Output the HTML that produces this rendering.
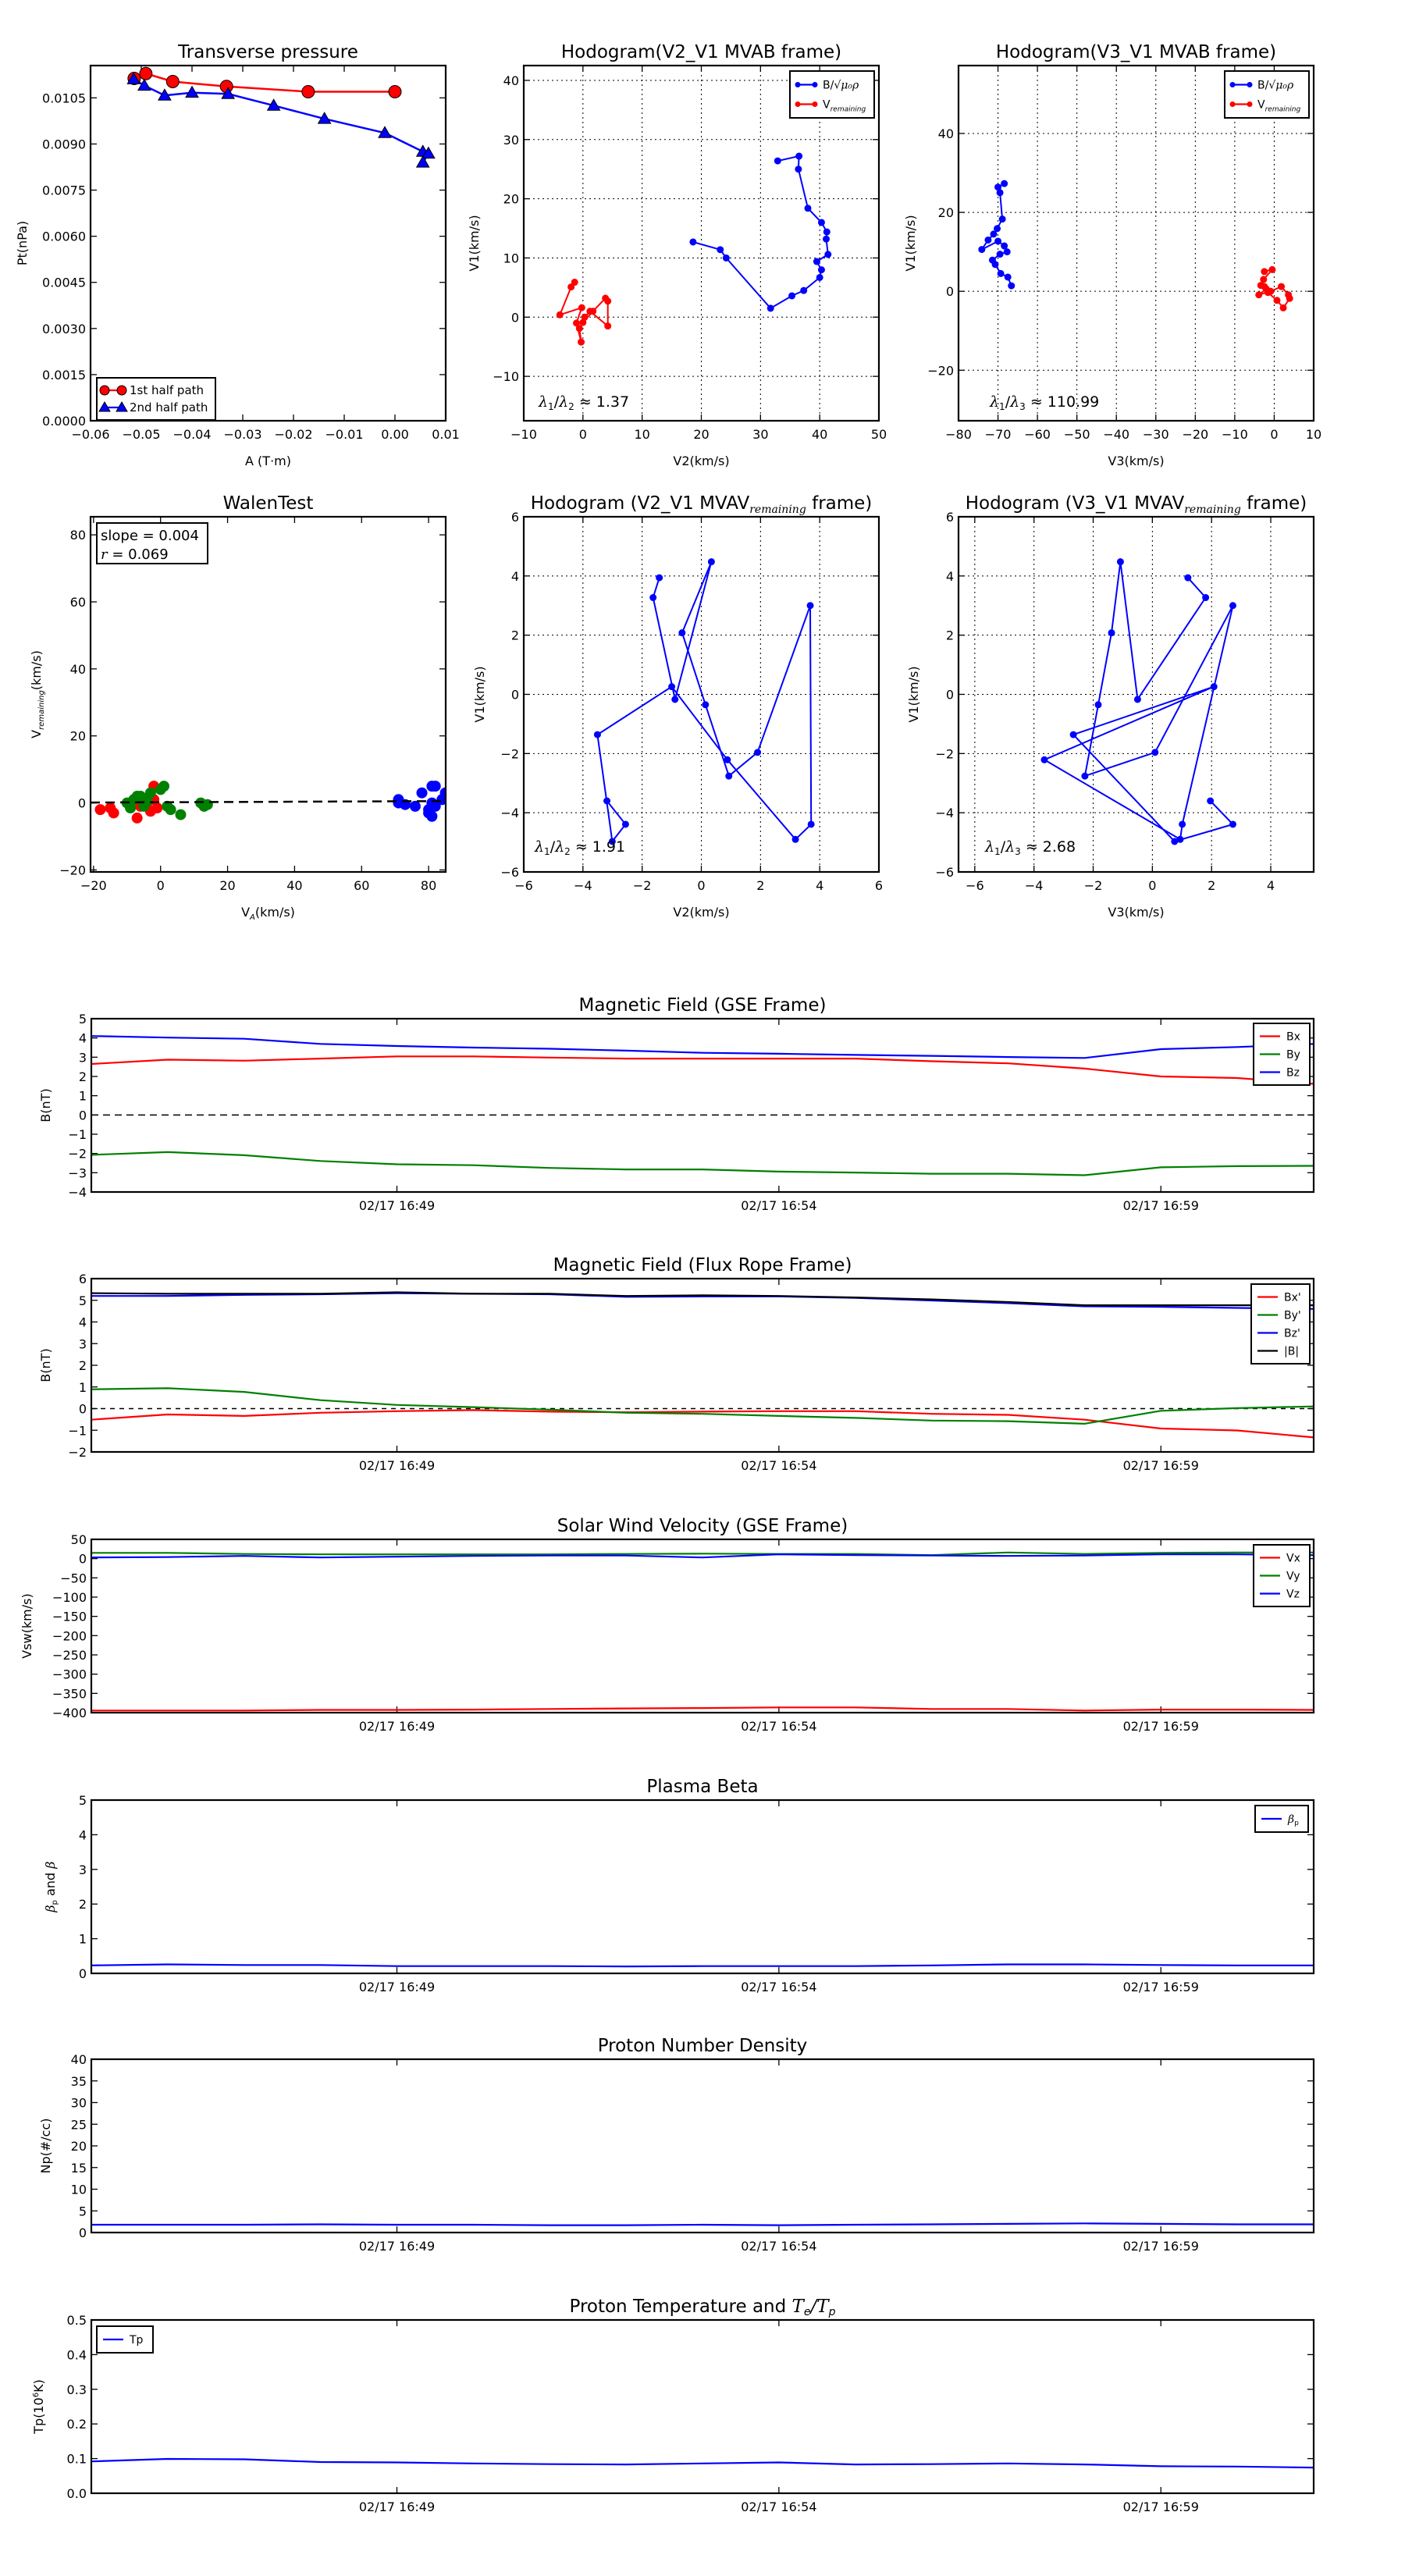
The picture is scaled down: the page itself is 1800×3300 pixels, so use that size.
<!DOCTYPE html>
<html><head><meta charset="utf-8"><title>Flux rope analysis</title>
<style>
html,body{margin:0;padding:0;background:#fff;}
svg{display:block;}
text{font-family:"DejaVu Sans","Liberation Sans",sans-serif;fill:#000;}
</style></head>
<body>
<svg id="fig" xmlns="http://www.w3.org/2000/svg" width="1800" height="3300" viewBox="0 0 1800 3300">
<rect x="0" y="0" width="1800" height="3300" fill="#fff"></rect>
</svg>
<script>
// ---------- data ----------
const ptFirstA = [-0.0514,-0.0491,-0.0438,-0.0332,-0.0171,0.0000];
const ptFirstP = [0.01113,0.01129,0.01103,0.01087,0.0107,0.0107];
const ptSecondA = [-0.0515,-0.0494,-0.0454,-0.0400,-0.0329,-0.0239,-0.0139,-0.0020,0.0055,0.0066,0.0055];
const ptSecondP = [0.01111,0.01090,0.01058,0.01067,0.01063,0.01025,0.00982,0.00936,0.00875,0.00869,0.00840];

const h1BV2 = [18.6,23.2,24.2,31.7,35.3,37.3,40.0,40.3,39.5,41.4,41.1,41.2,40.3,38.0,36.4,36.5,32.9];
const h1BV1 = [12.7,11.4,10.0,1.5,3.6,4.5,6.7,8.0,9.4,10.6,13.2,14.4,16.0,18.4,25.0,27.2,26.4];
const h1RV2 = [-1.4,-2.0,-3.9,-0.2,-1.1,-0.3,-0.6,0.0,1.7,3.8,4.2,4.2,1.2,0.3];
const h1RV1 = [5.9,5.1,0.4,1.6,-1.0,-4.2,-1.9,-0.9,1.0,3.2,2.7,-1.5,1.0,0.0];

const h2BV3 = [-68.4,-70.0,-69.5,-68.9,-70.2,-71.1,-72.5,-74.1,-70.0,-68.4,-67.7,-69.5,-71.4,-70.7,-69.3,-67.5,-66.6];
const h2BV1 = [27.3,26.4,25.0,18.3,15.9,14.5,13.0,10.6,12.7,11.5,10.0,9.4,7.9,6.8,4.5,3.6,1.4];
const h2RV3 = [-2.5,-0.5,-2.7,-3.4,-2.0,-3.9,-0.9,1.8,3.6,3.9,2.3,0.7,-1.6,-2.5];
const h2RV1 = [5.0,5.5,3.0,1.5,0.6,-0.9,0.0,1.2,-0.9,-1.8,-4.2,-2.3,-0.3,1.2];

const walenRedX = [-18,-15,-14,-7,-3,-2,-2,-1,-4,-6];
const walenRedY = [-2,-1.5,-3,-4.5,-2.5,5,1,-1.5,0,-1];
const walenGreenX = [-10,-8,-7,-6,-5,-4,0,1,2,3,6,12,14,13,-9,-3];
const walenGreenY = [0,1,2,2,-1,0.5,4,5,-1,-2,-3.5,0,-0.5,-1,-1.5,3];
const walenBlueX = [71,71,73,76,78,81,82,80,81,82,84,85,81,80];
const walenBlueY = [1,0,-0.5,-1,3,5,5,-2,-4,-1,1,3,0,-3];
const walenSlope = 0.004;
const walenIntercept = 0.2;

const mvavV1 = [3.94,3.27,-0.17,4.48,2.08,-0.35,-2.76,-1.96,3.00,-4.39,-4.90,-2.21,0.26,-1.36,-4.97,-4.39,-3.60];
const mvavV2 = [-1.42,-1.63,-0.89,0.34,-0.65,0.14,0.93,1.90,3.68,3.71,3.18,0.88,-1.00,-3.51,-3.01,-2.56,-3.19];
const mvavV3 = [1.20,1.80,-0.50,-1.08,-1.38,-1.83,-2.28,0.09,2.72,1.01,0.94,-3.65,2.08,-2.67,0.75,2.72,1.96];

const timeMinutes = [0,1,2,3,4,5,6,7,8,9,10,11,12,13,14,15,16];
const timeTickMinutes = [4,9,14];
const timeTickLabels = ["02/17 16:49","02/17 16:54","02/17 16:59"];

const gseBx = [2.65,2.87,2.82,2.93,3.04,3.04,2.98,2.93,2.93,2.93,2.93,2.79,2.68,2.41,2.00,1.92,1.62];
const gseBy = [-2.07,-1.93,-2.09,-2.39,-2.56,-2.61,-2.75,-2.83,-2.83,-2.94,-2.99,-3.05,-3.05,-3.13,-2.72,-2.66,-2.64];
const gseBz = [4.10,4.02,3.96,3.69,3.58,3.50,3.44,3.34,3.23,3.18,3.12,3.07,3.01,2.96,3.42,3.53,3.69];

const frBx = [-0.51,-0.27,-0.34,-0.19,-0.12,-0.07,-0.14,-0.17,-0.14,-0.12,-0.12,-0.24,-0.29,-0.51,-0.92,-1.01,-1.33];
const frBy = [0.89,0.94,0.77,0.39,0.17,0.07,-0.05,-0.19,-0.24,-0.34,-0.43,-0.55,-0.58,-0.70,-0.10,0.02,0.10];
const frBz = [5.20,5.20,5.25,5.28,5.33,5.30,5.28,5.16,5.18,5.18,5.11,4.99,4.87,4.72,4.70,4.65,4.60];
const frBt = [5.33,5.30,5.30,5.30,5.37,5.30,5.30,5.20,5.23,5.20,5.13,5.04,4.92,4.77,4.77,4.77,4.77];

const swVx = [-394.5,-394.5,-394.5,-393,-393,-392,-390.5,-389,-388,-386.5,-386.5,-390.5,-390.5,-394.5,-392,-392,-393];
const swVy = [15,15,12,11,11,11,11,12,13,12,12,9,16,12,15,16,16];
const swVz = [3,4,7,3,5,7,8,8,3,11,9,8,7,8,11,11,9];

const betaP = [0.23,0.26,0.24,0.24,0.21,0.21,0.21,0.20,0.21,0.21,0.21,0.23,0.26,0.26,0.24,0.23,0.23];
const densNp = [1.8,1.8,1.8,1.9,1.8,1.8,1.7,1.7,1.8,1.7,1.8,1.9,2.0,2.1,2.0,1.9,1.9];
const tempTp = [0.092,0.099,0.098,0.090,0.089,0.086,0.084,0.083,0.086,0.089,0.083,0.084,0.086,0.083,0.078,0.077,0.074];

// ---------- helpers ----------
const NS = 'http://www.w3.org/2000/svg';
const svg = document.getElementById('fig');
const TITLE_FS = 23, TICK_FS = 16, LABEL_FS = 16;
function mk(tag, attrs, parent) {
  const e = document.createElementNS(NS, tag);
  for (const k in attrs) e.setAttribute(k, attrs[k]);
  (parent || svg).appendChild(e);
  return e;
}
function txt(parent, x, y, s, size, anchor) {
  const t = mk('text', {x: x, y: y, 'font-size': size, 'text-anchor': anchor || 'middle'}, parent);
  t.textContent = s;
  return t;
}
function fmtMinus(s) { return String(s).replace('-', '\u2212'); }
let clipId = 0;
function makeAxes(c) {
  const g = mk('g', {});
  
  
  const sx = v => c.x0 + (v - c.xmin) / (c.xmax - c.xmin) * c.w;
  const sy = v => c.y0 + c.h - (v - c.ymin) / (c.ymax - c.ymin) * c.h;
  clipId++;
  const cp = mk('clipPath', {id: 'clip' + clipId}, g);
  mk('rect', {x: c.x0, y: c.y0, width: c.w, height: c.h}, cp);
  const grid = mk('g', {}, g);
  
  
  const ticks = mk('g', {stroke: '#000', 'stroke-width': 1.3}, g);
  
  
  const xl = mk('g', {}, g);
  
  
  const yl = mk('g', {}, g);
  
  
  const L = 8;
  c.xticks.forEach((v, i) => {
    const x = sx(v);
    if (c.grid) mk('line', {x1: x, x2: x, y1: c.y0, y2: c.y0 + c.h, stroke: '#000', 'stroke-width': 1, 'stroke-dasharray': '2,4'}, grid);
    mk('line', {x1: x, x2: x, y1: c.y0 + c.h, y2: c.y0 + c.h - L}, ticks);
    mk('line', {x1: x, x2: x, y1: c.y0, y2: c.y0 + L}, ticks);
    const lab = c.xlabels ? c.xlabels[i] : fmtMinus(c.xfmt(v));
    txt(xl, x, c.y0 + c.h + 23, lab, TICK_FS);
  });
  c.yticks.forEach((v, i) => {
    const y = sy(v);
    if (c.grid) mk('line', {x1: c.x0, x2: c.x0 + c.w, y1: y, y2: y, stroke: '#000', 'stroke-width': 1, 'stroke-dasharray': '2,4'}, grid);
    mk('line', {x1: c.x0, x2: c.x0 + L, y1: y, y2: y}, ticks);
    mk('line', {x1: c.x0 + c.w, x2: c.x0 + c.w - L, y1: y, y2: y}, ticks);
    txt(yl, c.x0 - 6, y + 6, fmtMinus(c.yfmt(v)), TICK_FS, 'end');
  });
  const tt = txt(g, c.x0 + c.w / 2, c.y0 - 10, '', TITLE_FS);
  
  
  if (c.titleHTML) tt.innerHTML = c.titleHTML; else tt.textContent = c.title;
  if (c.xlabel) {
    const xt = txt(g, c.x0 + c.w / 2, c.y0 + c.h + 57, '', LABEL_FS);
    
    
    xt.innerHTML = c.xlabel;
  }
  if (c.ylabel) {
    const ycx = c.ylabelX, ycy = c.y0 + c.h / 2;
    const yt = mk('text', {x: ycx, y: ycy, 'font-size': LABEL_FS, 'text-anchor': 'middle', transform: 'rotate(-90 ' + ycx + ' ' + ycy + ')'}, g);
    
    
    yt.innerHTML = c.ylabel;
  }
  const data = mk('g', {'clip-path': 'url(#clip' + clipId + ')'}, g);
  
  
  return {g: g, data: data, sx: sx, sy: sy, c: c};
}
function frame(ax) {
  const c = ax.c;
  const r = mk('rect', {x: c.x0, y: c.y0, width: c.w, height: c.h, fill: 'none', stroke: '#000', 'stroke-width': 2.2}, ax.g);
  
  
}
function polyline(ax, xs, ys, color, width, name) {
  const pts = xs.map((x, i) => ax.sx(x).toFixed(1) + ',' + ax.sy(ys[i]).toFixed(1)).join(' ');
  const p = mk('polyline', {points: pts, fill: 'none', stroke: color, 'stroke-width': width, 'stroke-linejoin': 'round'}, ax.data);
  
  
  return p;
}
function dots(ax, xs, ys, color, r, stroke, name) {
  const gg = mk('g', {}, ax.data);
  
  
  xs.forEach((x, i) => {
    const d = mk('circle', {cx: ax.sx(x), cy: ax.sy(ys[i]), r: r, fill: color, stroke: stroke || color, 'stroke-width': 1}, gg);
    
    
  });
}
function tris(ax, xs, ys, color, s, name) {
  const gg = mk('g', {}, ax.data);
  
  
  xs.forEach((x, i) => {
    const cx = ax.sx(x), cy = ax.sy(ys[i]);
    const t = mk('polygon', {points: (cx) + ',' + (cy - s) + ' ' + (cx - s) + ',' + (cy + s * 0.75) + ' ' + (cx + s) + ',' + (cy + s * 0.75), fill: color, stroke: '#000', 'stroke-width': 1}, gg);
    
    
  });
}
function legend(ax, x, y, w, entries, name, fs, rowH) {
  const gg = mk('g', {}, ax.g);
  
  
  rowH = rowH || 24;
  const h = entries.length * rowH + 10;
  mk('rect', {x: x, y: y, width: w, height: h, fill: '#fff', stroke: '#000', 'stroke-width': 2}, gg);
  entries.forEach((e, i) => {
    const cy = y + 5 + rowH * i + rowH / 2;
    const eg = mk('g', {}, gg);
    
    
    mk('line', {x1: x + 8, x2: x + 34, y1: cy, y2: cy, stroke: e.color, 'stroke-width': 2.2}, eg);
    if (e.marker === 'o') { mk('circle', {cx: x + 10, cy: cy, r: e.r || 3, fill: e.color, stroke: e.mstroke || e.color}, eg); mk('circle', {cx: x + 32, cy: cy, r: e.r || 3, fill: e.color, stroke: e.mstroke || e.color}, eg); }
    if (e.marker === '^') { [x + 10, x + 32].forEach(px => mk('polygon', {points: px + ',' + (cy - 7) + ' ' + (px - 7) + ',' + (cy + 5) + ' ' + (px + 7) + ',' + (cy + 5), fill: e.color, stroke: '#000'}, eg)); }
    const t = mk('text', {x: x + 42, y: cy + 5, 'font-size': fs || 13}, eg);
    t.innerHTML = e.label;
  });
}
function range(a, b, s) { const r = []; for (let v = a; v <= b + 1e-9; v += s) r.push(+v.toFixed(6)); return r; }
const fInt = v => String(Math.round(v));
function ratioLabel(ax, x, y, a, b, val) {
  const t = mk('text', {x: x, y: y, 'font-size': 19}, ax.g);
  
  
  t.innerHTML = '<tspan font-family="DejaVu Serif" font-style="italic">\u03bb</tspan><tspan font-size="12" dy="4">' + a + '</tspan><tspan dy="-4">/</tspan><tspan font-family="DejaVu Serif" font-style="italic">\u03bb</tspan><tspan font-size="12" dy="4">' + b + '</tspan><tspan dy="-4"> \u2248 ' + val + '</tspan>';
}

// ---------- panel 1: Transverse pressure ----------
const ax1 = makeAxes({name: 'transverse-pressure-chart', x0: 116, y0: 84, w: 455, h: 455, xmin: -0.06, xmax: 0.01, ymin: 0, ymax: 0.01155,
  xticks: range(-0.06, 0.01, 0.01), yticks: range(0, 0.0105, 0.0015), xfmt: v => v.toFixed(2), yfmt: v => v.toFixed(4),
  title: 'Transverse pressure', xlabel: 'A (T\u00b7m)', ylabel: 'Pt(nPa)', ylabelX: 34});
polyline(ax1, ptFirstA, ptFirstP, '#f00', 2.5, 'first-half-path-line');
polyline(ax1, ptSecondA, ptSecondP, '#00f', 2.5, 'second-half-path-line');
dots(ax1, ptFirstA, ptFirstP, '#f00', 8, '#000', 'first-half-path-markers');
tris(ax1, ptSecondA, ptSecondP, '#00f', 8, 'second-half-path-markers');
legend(ax1, 124, 484, 152, [{color: '#f00', marker: 'o', r: 6, mstroke: '#000', label: '1st half path'}, {color: '#00f', marker: '^', label: '2nd half path'}], 'transverse-pressure-legend', 15, 22);
frame(ax1);

// ---------- panel 2: Hodogram V2_V1 MVAB ----------
const ax2 = makeAxes({name: 'hodogram-v2-v1-mvab-chart', x0: 671, y0: 84, w: 455, h: 455, xmin: -10, xmax: 50, ymin: -17.5, ymax: 42.5,
  xticks: range(-10, 50, 10), yticks: range(-10, 40, 10), xfmt: fInt, yfmt: fInt, grid: true,
  title: 'Hodogram(V2_V1 MVAB frame)', xlabel: 'V2(km/s)', ylabel: 'V1(km/s)', ylabelX: 613});
polyline(ax2, h1BV2, h1BV1, '#00f', 2, 'b-normalized-hodogram-line');
dots(ax2, h1BV2, h1BV1, '#00f', 4, null, 'b-normalized-hodogram-points');
polyline(ax2, h1RV2, h1RV1, '#f00', 2, 'v-remaining-hodogram-line');
dots(ax2, h1RV2, h1RV1, '#f00', 4, null, 'v-remaining-hodogram-points');
legend(ax2, 1012, 91, 108, [{color: '#00f', marker: 'o', label: 'B/\u221a<tspan font-style="italic" font-family="DejaVu Serif">\u03bc\u2080\u03c1</tspan>'}, {color: '#f00', marker: 'o', label: 'V<tspan font-size="9" dy="4" font-style="italic">remaining</tspan>'}], 'hodogram-v2-v1-mvab-legend', 14, 25);
ratioLabel(ax2, 690, 521, 1, 2, '1.37');
frame(ax2);

// ---------- panel 3: Hodogram V3_V1 MVAB ----------
const ax3 = makeAxes({name: 'hodogram-v3-v1-mvab-chart', x0: 1228, y0: 84, w: 455, h: 455, xmin: -80, xmax: 10, ymin: -32.8, ymax: 57.2,
  xticks: range(-80, 10, 10), yticks: range(-20, 40, 20), xfmt: fInt, yfmt: fInt, grid: true,
  title: 'Hodogram(V3_V1 MVAB frame)', xlabel: 'V3(km/s)', ylabel: 'V1(km/s)', ylabelX: 1172});
polyline(ax3, h2BV3, h2BV1, '#00f', 2, 'b-normalized-hodogram-line');
dots(ax3, h2BV3, h2BV1, '#00f', 4, null, 'b-normalized-hodogram-points');
polyline(ax3, h2RV3, h2RV1, '#f00', 2, 'v-remaining-hodogram-line');
dots(ax3, h2RV3, h2RV1, '#f00', 4, null, 'v-remaining-hodogram-points');
legend(ax3, 1569, 91, 108, [{color: '#00f', marker: 'o', label: 'B/\u221a<tspan font-style="italic" font-family="DejaVu Serif">\u03bc\u2080\u03c1</tspan>'}, {color: '#f00', marker: 'o', label: 'V<tspan font-size="9" dy="4" font-style="italic">remaining</tspan>'}], 'hodogram-v3-v1-mvab-legend', 14, 25);
ratioLabel(ax3, 1268, 521, 1, 3, '110.99');
frame(ax3);

// ---------- panel 4: Walen test ----------
const ax4 = makeAxes({name: 'walen-test-chart', x0: 116, y0: 662, w: 455, h: 455, xmin: -20.9, xmax: 85.1, ymin: -20.6, ymax: 85.4,
  xticks: range(-20, 80, 20), yticks: range(-20, 80, 20), xfmt: fInt, yfmt: fInt,
  title: 'WalenTest', xlabel: 'V<tspan font-size="10" dy="4" font-style="italic">A</tspan><tspan dy="-4">(km/s)</tspan>', ylabel: 'V<tspan font-size="10" dy="4" font-style="italic">remaining</tspan><tspan dy="-4">(km/s)</tspan>', ylabelX: 52});
dots(ax4, walenRedX, walenRedY, '#f00', 6.5, null, 'walen-red-points');
dots(ax4, walenGreenX, walenGreenY, 'green', 6.5, null, 'walen-green-points');
dots(ax4, walenBlueX, walenBlueY, '#00f', 6.5, null, 'walen-blue-points');
(function(){ const xa = [-20.9, 85.1]; const l = mk('line', {x1: ax4.sx(xa[0]), y1: ax4.sy(walenSlope * xa[0] + walenIntercept), x2: ax4.sx(xa[1]), y2: ax4.sy(walenSlope * xa[1] + walenIntercept), stroke: '#000', 'stroke-width': 2.5, 'stroke-dasharray': '12,7'}, ax4.data);   })();
(function(){ const gg = mk('g', {}, ax4.g);  
  mk('rect', {x: 124, y: 670, width: 142, height: 52, fill: '#fff', stroke: '#000', 'stroke-width': 2}, gg);
  txt(gg, 129, 692, 'slope = 0.004', 18, 'start');
  const t = mk('text', {x: 129, y: 716, 'font-size': 18}, gg); t.innerHTML = '<tspan font-family="DejaVu Serif" font-style="italic">r</tspan> = 0.069'; })();
frame(ax4);

// ---------- panel 5 & 6: MVAV hodograms ----------
const ax5 = makeAxes({name: 'hodogram-v2-v1-mvav-chart', x0: 671, y0: 662, w: 455, h: 455, xmin: -6, xmax: 6, ymin: -6, ymax: 6,
  xticks: range(-6, 6, 2), yticks: range(-6, 6, 2), xfmt: fInt, yfmt: fInt, grid: true,
  titleHTML: 'Hodogram (V2_V1 MVAV<tspan font-size="14" dy="5" font-style="italic" font-family="DejaVu Serif">remaining</tspan><tspan dy="-5"> frame)</tspan>', xlabel: 'V2(km/s)', ylabel: 'V1(km/s)', ylabelX: 620});
polyline(ax5, mvavV2, mvavV1, '#00f', 2, 'mvav-v2-v1-line');
dots(ax5, mvavV2, mvavV1, '#00f', 4, null, 'mvav-v2-v1-points');
ratioLabel(ax5, 685, 1091, 1, 2, '1.91');
frame(ax5);

const ax6 = makeAxes({name: 'hodogram-v3-v1-mvav-chart', x0: 1228, y0: 662, w: 455, h: 455, xmin: -6.55, xmax: 5.45, ymin: -6, ymax: 6,
  xticks: range(-6, 4, 2), yticks: range(-6, 6, 2), xfmt: fInt, yfmt: fInt, grid: true,
  titleHTML: 'Hodogram (V3_V1 MVAV<tspan font-size="14" dy="5" font-style="italic" font-family="DejaVu Serif">remaining</tspan><tspan dy="-5"> frame)</tspan>', xlabel: 'V3(km/s)', ylabel: 'V1(km/s)', ylabelX: 1176});
polyline(ax6, mvavV3, mvavV1, '#00f', 2, 'mvav-v3-v1-line');
dots(ax6, mvavV3, mvavV1, '#00f', 4, null, 'mvav-v3-v1-points');
ratioLabel(ax6, 1262, 1091, 1, 3, '2.68');
frame(ax6);

// ---------- time series panels ----------
function timeAxes(name, y0, ymin, ymax, yticks, yfmt, title, ylabel, ylabelX, titleHTML) {
  return makeAxes({name: name, x0: 117, y0: y0, w: 1566, h: 222, xmin: 0, xmax: 16, ymin: ymin, ymax: ymax,
    xticks: timeTickMinutes, xlabels: timeTickLabels, yticks: yticks, xfmt: fInt, yfmt: yfmt,
    title: title, titleHTML: titleHTML, ylabel: ylabel, ylabelX: ylabelX});
}
function zeroLine(ax, dash, name) {
  const l = mk('line', {x1: ax.sx(0), x2: ax.sx(16), y1: ax.sy(0), y2: ax.sy(0), stroke: '#000', 'stroke-width': 1.5, 'stroke-dasharray': dash}, ax.data);
  
  
}

const t1 = timeAxes('magnetic-field-gse-chart', 1305, -4, 5, range(-4, 5, 1), fInt, 'Magnetic Field (GSE Frame)', 'B(nT)', 64);
zeroLine(t1, '9,6', 'zero-reference-line');
polyline(t1, timeMinutes, gseBx, '#f00', 2.2, 'bx-line');
polyline(t1, timeMinutes, gseBy, 'green', 2.2, 'by-line');
polyline(t1, timeMinutes, gseBz, '#00f', 2.2, 'bz-line');
legend(t1, 1606, 1311, 72, [{color: '#f00', label: 'Bx'}, {color: 'green', label: 'By'}, {color: '#00f', label: 'Bz'}], 'magnetic-field-gse-legend', 14, 23);
frame(t1);

const t2 = timeAxes('magnetic-field-flux-rope-chart', 1638, -2, 6, range(-2, 6, 1), fInt, 'Magnetic Field (Flux Rope Frame)', 'B(nT)', 64);
zeroLine(t2, '6,6', 'zero-reference-line');
polyline(t2, timeMinutes, frBx, '#f00', 2.2, 'bx-prime-line');
polyline(t2, timeMinutes, frBy, 'green', 2.2, 'by-prime-line');
polyline(t2, timeMinutes, frBz, '#00f', 2.2, 'bz-prime-line');
polyline(t2, timeMinutes, frBt, '#000', 2.2, 'b-magnitude-line');
legend(t2, 1603, 1645, 75, [{color: '#f00', label: "Bx'"}, {color: 'green', label: "By'"}, {color: '#00f', label: "Bz'"}, {color: '#000', label: '|B|'}], 'magnetic-field-flux-rope-legend', 14, 23);
frame(t2);

const t3 = timeAxes('solar-wind-velocity-chart', 1972, -400, 50, range(-400, 50, 50), fInt, 'Solar Wind Velocity (GSE Frame)', 'Vsw(km/s)', 40);
polyline(t3, timeMinutes, swVx, '#f00', 2.2, 'vx-line');
polyline(t3, timeMinutes, swVy, 'green', 2.2, 'vy-line');
polyline(t3, timeMinutes, swVz, '#00f', 2.2, 'vz-line');
legend(t3, 1606, 1979, 72, [{color: '#f00', label: 'Vx'}, {color: 'green', label: 'Vy'}, {color: '#00f', label: 'Vz'}], 'solar-wind-velocity-legend', 14, 23);
frame(t3);

const t4 = timeAxes('plasma-beta-chart', 2306, 0, 5, range(0, 5, 1), fInt, 'Plasma Beta', '<tspan font-family="DejaVu Serif" font-style="italic">\u03b2</tspan><tspan font-size="10" dy="3">p</tspan><tspan dy="-3"> and </tspan><tspan font-family="DejaVu Serif" font-style="italic">\u03b2</tspan>', 70);
polyline(t4, timeMinutes, betaP, '#00f', 2.2, 'beta-p-line');
legend(t4, 1608, 2313, 68, [{color: '#00f', label: '<tspan font-family="DejaVu Serif" font-style="italic">\u03b2</tspan><tspan font-size="9" dy="3">p</tspan>'}], 'plasma-beta-legend', 14, 24);
frame(t4);

const t5 = timeAxes('proton-number-density-chart', 2638, 0, 40, range(0, 40, 5), fInt, 'Proton Number Density', 'Np(#/cc)', 64);
polyline(t5, timeMinutes, densNp, '#00f', 2.2, 'np-line');
frame(t5);

const t6 = timeAxes('proton-temperature-chart', 2972, 0, 0.5, range(0, 0.5, 0.1), v => v.toFixed(1), '', 'Tp(10<tspan font-size="10" dy="-6">6</tspan><tspan dy="6">K)</tspan>', 55,
  'Proton Temperature and <tspan font-family="DejaVu Serif" font-style="italic">T</tspan><tspan font-size="14" dy="4" font-style="italic">e</tspan><tspan dy="-4" font-family="DejaVu Serif" font-style="italic">/T</tspan><tspan font-size="14" dy="4" font-style="italic">p</tspan>');
polyline(t6, timeMinutes, tempTp, '#00f', 2.2, 'tp-line');
legend(t6, 124, 2980, 72, [{color: '#00f', label: 'Tp'}], 'proton-temperature-legend', 14, 24);
frame(t6);
</script>
</body></html>
